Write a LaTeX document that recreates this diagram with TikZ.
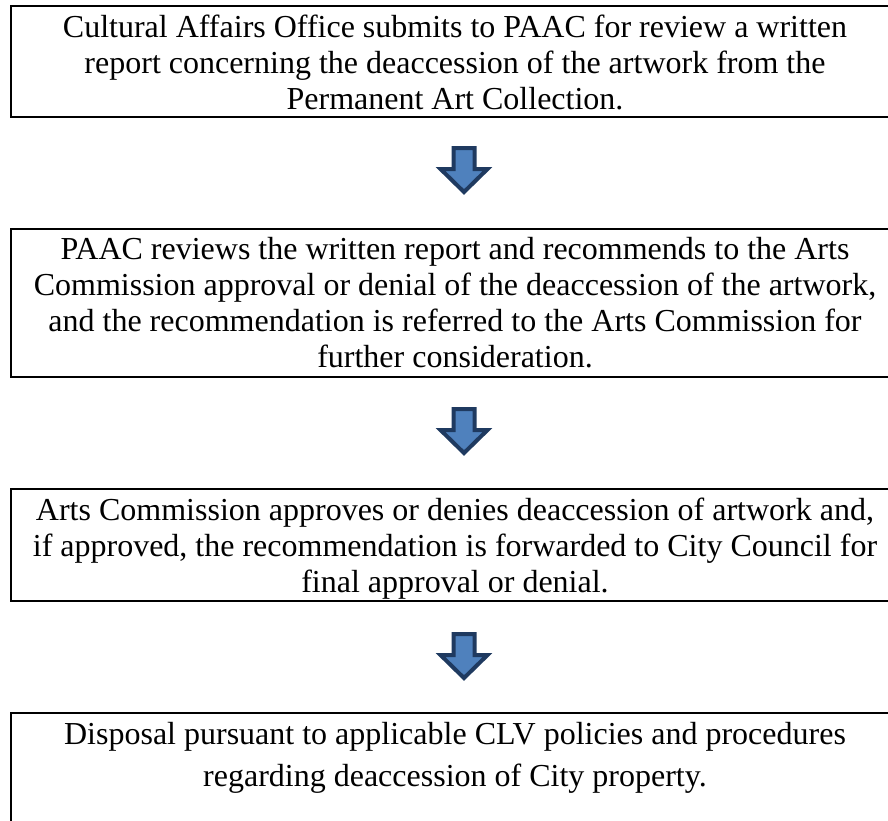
\documentclass[tikz,border=0pt]{standalone}
\usepackage{fontspec}
\setmainfont{Liberation Serif}
\definecolor{arrowfill}{HTML}{4F81BD}
\definecolor{arrowline}{HTML}{1F3A60}
\begin{document}
\begin{tikzpicture}[x=1pt,y=-1pt,
  box/.style={draw=black, line width=2.5pt, minimum width=888pt, inner sep=0pt, fill=none},
  txt/.style={align=center, inner sep=0pt, font=\fontsize{32}{36}\selectfont},
  downarrow/.pic={\draw[line width=4pt, line join=miter, draw=arrowline, fill=arrowfill]
     (-10.5,2) -- (10.5,2) -- (10.5,23) -- (23.5,23) -- (0,46) -- (-23.5,23) -- (-10.5,23) -- cycle;}]
\useasboundingbox (0,0) rectangle (888,820);
\clip (0,0) rectangle (888,820);
\node[box, minimum height=111pt] (b1) at (455,61.5) {};
\node[box, minimum height=148pt] (b2) at (455,303) {};
\node[box, minimum height=112pt] (b3) at (455,545) {};
\node[box, minimum height=130pt] (b4) at (455,778) {};
\node[txt, anchor=base] (t1) at (455,109) {Cultural Affairs Office submits to PAAC for review a written\\report concerning the deaccession of the artwork from the\\Permanent Art Collection.};
\node[txt, anchor=base] (t2) at (455,367) {PAAC reviews the written report and recommends to the Arts\\Commission approval or denial of the deaccession of the artwork,\\and the recommendation is referred to the Arts Commission for\\further consideration.};
\node[txt, anchor=base] (t3) at (455,592) {Arts Commission approves or denies deaccession of artwork and,\\if approved, the recommendation is forwarded to City Council for\\final approval or denial.};
\node[txt, anchor=base, font=\fontsize{32}{42}\selectfont] (t4) at (455,786) {Disposal pursuant to applicable CLV policies and procedures\\regarding deaccession of City property.};
\pic at (464,146) {downarrow};
\pic at (464,407) {downarrow};
\pic at (464,632) {downarrow};
\end{tikzpicture}
\end{document}
